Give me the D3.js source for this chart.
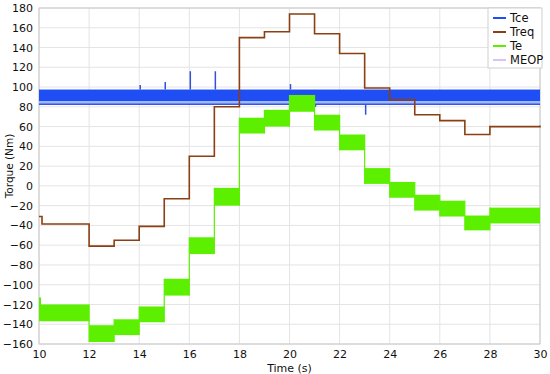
<!DOCTYPE html>
<html>
<head>
<meta charset="utf-8">
<script src="https://cdn.jsdelivr.net/npm/d3@7"></script>
<style>
body { margin: 0; background: #fff; }
text { font-family: "DejaVu Sans", Verdana, sans-serif; }
</style>
</head>
<body>
<svg id="chart" width="550" height="374"></svg>
<script>
// step start times (s), each step lasts until the next one
var stepT = [10, 12, 13, 14, 15, 16, 17, 18, 19, 20, 21, 22, 23, 24, 25, 26, 27, 28];
var endT = 30;

// Treq (Nm), one value per step
var treqV = [-38.5, -61, -55, -41, -13, 30, 80, 150, 156, 174, 154, 134, 99, 87, 72, 66, 52, 60];
var treqStart = -31;

// Te band (Nm), upper and lower edge per step
var teHigh = [-120, -141, -135, -122, -94, -52, -2, 69, 77, 92, 72, 52, 18, 4, -9, -15, -30, -22];
var teLow = [-137, -158, -151, -138, -111, -69, -20, 53, 60, 75, 56, 36, 2, -12, -25, -31, -45, -38];

// Tce band (Nm) and its spikes
var tceHigh = 97.5, tceLow = 85.5, tceLine = 82.5;
var tceSpikeT = [14, 15, 16, 17, 20, 21, 23];
var tceSpikeV = [102, 105, 116, 116, 103, 80, 72];

// MEOP (Nm)
var meopT = [10, 30];
var meopV = [90, 90];

var xTicks = [10, 12, 14, 16, 18, 20, 22, 24, 26, 28, 30];
var yTicks = d3.range(-160, 181, 20);
var legendKeys = ["Tce", "Treq", "Te", "MEOP"];
var colors = {Tce: "#1f4ef5", Treq: "#8b3f12", Te: "#5cf000", MEOP: "#dcc2f4"};

var svg = d3.select("#chart"),
margin = {top: 8, right: 10, bottom: 30, left: 39},
width = +svg.attr("width") - margin.left - margin.right,
height = +svg.attr("height") - margin.top - margin.bottom,
g = svg.append("g").attr("transform", "translate(" + margin.left + "," + margin.top + ")");

var x = d3.scaleLinear().domain([10, 30]).range([0, width]);
var y = d3.scaleLinear().domain([-160, 180]).range([height, 0]);

// grid
g.append("g").selectAll("line").data(xTicks).enter().append("line")
    .attr("x1", x).attr("x2", x).attr("y1", 0).attr("y2", height)
    .attr("stroke", "#e4e4e4");
g.append("g").selectAll("line").data(yTicks).enter().append("line")
    .attr("x1", 0).attr("x2", width).attr("y1", y).attr("y2", y)
    .attr("stroke", "#e4e4e4");

// frame
g.append("rect").attr("width", width).attr("height", height)
    .attr("fill", "none").attr("stroke", "#c8c8c8");

// MEOP
g.append("path")
    .datum(meopT.map(function(t, i) { return [t, meopV[i]]; }))
    .attr("fill", "none").attr("stroke", colors.MEOP).attr("stroke-width", 1.2)
    .attr("d", d3.line().x(function(d) { return x(d[0]); }).y(function(d) { return y(d[1]); }));

// Tce band
g.append("rect")
    .attr("x", x(10)).attr("width", x(30) - x(10))
    .attr("y", y(tceHigh)).attr("height", y(tceLow) - y(tceHigh))
    .attr("fill", colors.Tce);
g.append("rect")
    .attr("x", x(10)).attr("width", x(30) - x(10))
    .attr("y", y(tceLow)).attr("height", y(tceLine) - y(tceLow))
    .attr("fill", "#9db8ff");
g.append("line")
    .attr("x1", x(10)).attr("x2", x(30)).attr("y1", y(tceLine)).attr("y2", y(tceLine))
    .attr("stroke", "#3455e8").attr("stroke-width", 1.5);
g.append("g").selectAll("line").data(tceSpikeT).enter().append("line")
    .attr("x1", function(d) { return x(d) + 1; })
    .attr("x2", function(d) { return x(d) + 1; })
    .attr("y1", function(d, i) { return y(tceSpikeV[i] > 90 ? tceHigh : tceLine); })
    .attr("y2", function(d, i) { return y(tceSpikeV[i]); })
    .attr("stroke", "#3350d8").attr("stroke-width", 1.5);

// Te band
g.append("g").selectAll("rect").data(stepT).enter().append("rect")
    .attr("x", function(d) { return x(d); })
    .attr("width", function(d, i) { return x(i < stepT.length - 1 ? stepT[i + 1] : endT) - x(d); })
    .attr("y", function(d, i) { return y(teHigh[i]); })
    .attr("height", function(d, i) { return y(teLow[i]) - y(teHigh[i]); })
    .attr("fill", colors.Te);
// thin transitions between the steps
g.append("g").selectAll("line").data(stepT.slice(1)).enter().append("line")
    .attr("x1", function(d) { return x(d); })
    .attr("x2", function(d) { return x(d); })
    .attr("y1", function(d, i) { return y(Math.min(teLow[i], teLow[i + 1])); })
    .attr("y2", function(d, i) { return y(Math.max(teHigh[i], teHigh[i + 1])); })
    .attr("stroke", colors.Te).attr("stroke-width", 1.2);
g.append("line")
    .attr("x1", x(10) + 1).attr("x2", x(10) + 1).attr("y1", y(-113)).attr("y2", y(-130))
    .attr("stroke", colors.Te).attr("stroke-width", 2);

// Treq
var treqPts = [[10, treqStart], [10.12, treqV[0]]];
stepT.forEach(function(t, i) { if (i > 0) treqPts.push([t, treqV[i]]); });
treqPts.push([endT, treqV[treqV.length - 1] + 1]);
g.append("path")
    .datum(treqPts)
    .attr("fill", "none").attr("stroke", colors.Treq).attr("stroke-width", 1.6)
    .attr("d", d3.line().curve(d3.curveStepAfter)
        .x(function(d) { return x(d[0]); }).y(function(d) { return y(d[1]); }));

// axes
var xAxis = g.append("g")
    .attr("transform", "translate(0," + height + ")")
    .call(d3.axisBottom(x).tickValues(xTicks).tickSize(0).tickPadding(6));
var yAxis = g.append("g")
    .call(d3.axisLeft(y).tickValues(yTicks).tickSize(0).tickPadding(6));
[xAxis, yAxis].forEach(function(a) {
    a.select(".domain").remove();
    a.selectAll("text").attr("font-family", "DejaVu Sans, Verdana, sans-serif")
        .attr("font-size", 11).attr("fill", "#111");
});

g.append("text")
    .attr("x", width / 2).attr("y", height + 28)
    .attr("text-anchor", "middle").attr("font-size", 11).attr("fill", "#111")
    .text("Time (s)");
g.append("text")
    .attr("transform", "rotate(-90)")
    .attr("x", -height / 2 + 10).attr("y", -26)
    .attr("text-anchor", "middle").attr("font-size", 10.5).attr("fill", "#111")
    .text("Torque (Nm)");

// legend
var lg = g.append("g").attr("transform", "translate(" + (width - 52) + ",0)");
lg.append("rect").attr("width", 54).attr("height", 60)
    .attr("fill", "#fff").attr("stroke", "#cfcfcf");
var items = lg.selectAll("g").data(legendKeys).enter().append("g")
    .attr("transform", function(d, i) { return "translate(0," + (10 + i * 14) + ")"; });
items.append("line").attr("x1", 5).attr("x2", 18)
    .attr("stroke", function(d) { return colors[d]; }).attr("stroke-width", 2);
items.append("text").attr("x", 22).attr("dy", "0.35em")
    .attr("font-size", 11.5).attr("fill", "#111")
    .text(function(d) { return d; });
</script>
</body>
</html>
